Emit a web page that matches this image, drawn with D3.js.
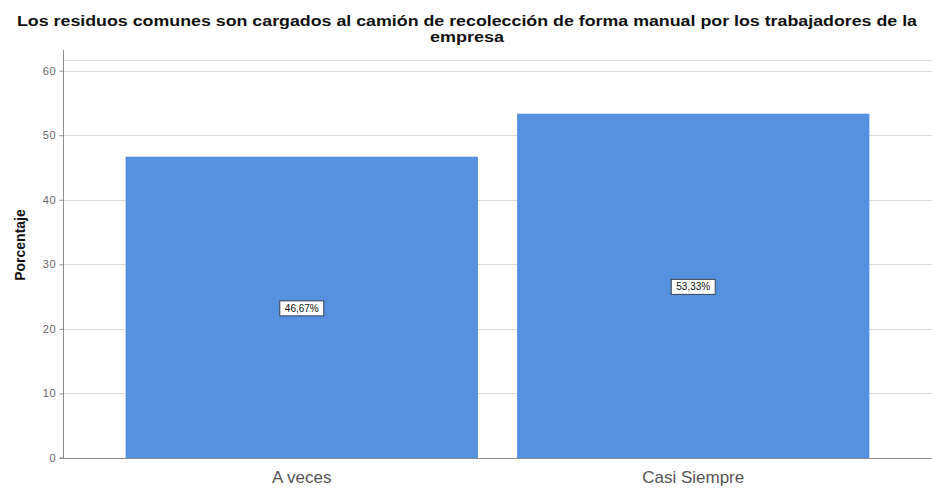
<!DOCTYPE html>
<html>
<head>
<meta charset="utf-8">
<script src="https://cdn.jsdelivr.net/npm/d3@7"></script>
<style>
  html, body { margin: 0; padding: 0; background: #fff; }
  svg { display: block; font-family: "Liberation Sans", Arial, sans-serif; }
</style>
</head>
<body>
<svg id="chart" width="932" height="489"></svg>
<script>
const titleLines = ["Los residuos comunes son cargados al camión de recolección de forma manual por los trabajadores de la", "empresa"];
const yAxisTitle = "Porcentaje";
const categories = ["A veces", "Casi Siempre"];
const values = [46.67, 53.33];
const valueLabels = ["46,67%", "53,33%"];
const yTicks = [0, 10, 20, 30, 40, 50, 60];

(function () {
const svg = d3.select("#chart");
const mLeft = 63, mRight = 932, mBottom = 458, mTop = 50, frameTop = 60;

const x = d3.scaleBand().domain(categories).range([mLeft, mRight]).paddingInner(0.1).paddingOuter(0.16);
const y = d3.scaleLinear().domain([0, 63.2]).range([mBottom, mTop]);

// top frame line
svg.append("line").attr("x1", mLeft).attr("x2", mRight).attr("y1", frameTop + 0.5).attr("y2", frameTop + 0.5)
  .attr("stroke", "#e4e4e4").attr("stroke-width", 1);

// gridlines
svg.append("g").selectAll("line").data(yTicks.filter(d => d > 0)).join("line")
  .attr("x1", mLeft).attr("x2", mRight)
  .attr("y1", d => Math.round(y(d)) + 0.5).attr("y2", d => Math.round(y(d)) + 0.5)
  .attr("stroke", "#d9d9d9").attr("stroke-width", 1);

// bars
svg.append("g").selectAll("rect").data(values).join("rect")
  .attr("x", (d, i) => x(categories[i]))
  .attr("width", x.bandwidth())
  .attr("y", d => y(d))
  .attr("height", d => y(0) - y(d))
  .attr("fill", "#5591de");

// y axis
const yAxis = d3.axisLeft(y).tickValues(yTicks).tickSize(4).tickPadding(3).tickFormat(d3.format("d"));
const gy = svg.append("g").attr("transform", `translate(${mLeft + 0.5},0)`).call(yAxis);
gy.select(".domain").attr("stroke", "#8c8c8c").attr("d", `M-4,${y(0)}H0V${mTop}`);
gy.selectAll(".tick line").attr("stroke", "#8c8c8c");
gy.selectAll(".tick text").attr("fill", "#666").style("font-size", "11px").style("letter-spacing", "0.8px")
  .style("font-family", "'Liberation Sans', Arial, sans-serif");

// x axis baseline
svg.append("line").attr("x1", mLeft).attr("x2", mRight).attr("y1", mBottom + 0.5).attr("y2", mBottom + 0.5)
  .attr("stroke", "#8c8c8c").attr("stroke-width", 1.2);

// x labels
svg.append("g").selectAll("text").data(categories).join("text")
  .attr("x", d => x(d) + x.bandwidth() / 2)
  .attr("y", 483)
  .attr("text-anchor", "middle")
  .attr("fill", "#555")
  .style("font-size", "17px")
  .text(d => d);

// value labels
const lab = svg.append("g").selectAll("g").data(values).join("g")
  .attr("transform", (d, i) => `translate(${x(categories[i]) + x.bandwidth() / 2},${(y(d) + y(0)) / 2 + 1})`);
lab.append("rect")
  .attr("x", -22).attr("y", -7.5).attr("width", 44).attr("height", 15)
  .attr("fill", "#fff").attr("stroke", "#3a4250").attr("stroke-width", 1);
lab.append("text")
  .attr("text-anchor", "middle").attr("y", 3.5)
  .attr("fill", "#111").style("font-size", "10px")
  .text((d, i) => valueLabels[i]);

// y axis title
svg.append("text")
  .attr("transform", "translate(25,245) rotate(-90)")
  .attr("text-anchor", "middle")
  .attr("fill", "#111")
  .style("font-size", "14px").style("font-weight", "bold")
  .text(yAxisTitle);

// title
svg.append("text").attr("x", 467).attr("y", 26).attr("text-anchor", "middle")
  .attr("fill", "#111").style("font-size", "14px").style("font-weight", "bold").text(titleLines[0])
  .attr("textLength", 900).attr("lengthAdjust", "spacingAndGlyphs");
svg.append("text").attr("x", 467).attr("y", 42).attr("text-anchor", "middle")
  .attr("fill", "#111").style("font-size", "14px").style("font-weight", "bold").text(titleLines[1])
  .attr("textLength", 74).attr("lengthAdjust", "spacingAndGlyphs");
})();
</script>
</body>
</html>
